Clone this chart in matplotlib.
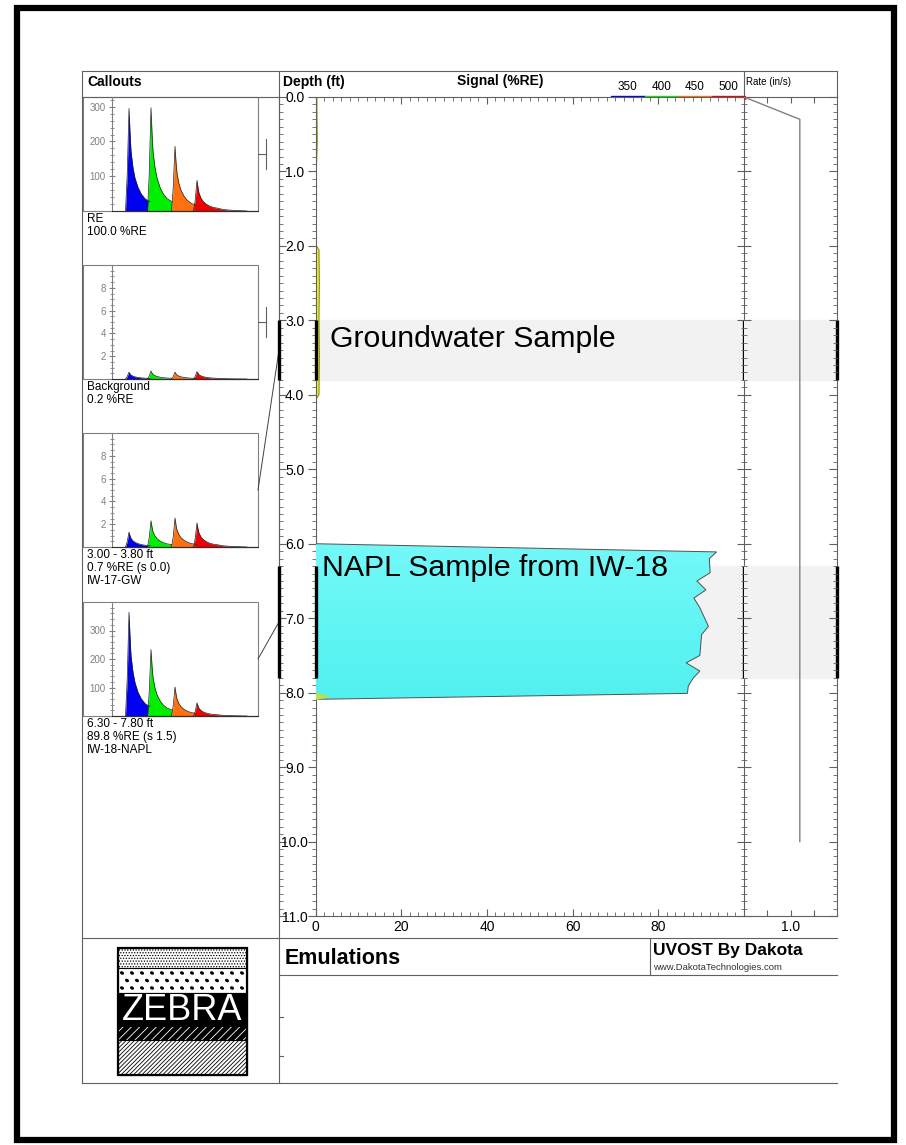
"""
UVOST log sheet: callout waveforms, signal (%RE) vs depth, push rate.
"""
import matplotlib

matplotlib.use("Agg")
import matplotlib.pyplot as plt  # noqa: E402
import numpy as np  # noqa: E402
from matplotlib.patches import Rectangle, Polygon, Ellipse, ConnectionPatch  # noqa: E402
from matplotlib.ticker import MultipleLocator, FormatStrFormatter  # noqa: E402

plt.rcParams["font.family"] = ["Liberation Sans", "DejaVu Sans"]
plt.rcParams["hatch.linewidth"] = 0.6

# ---------------- data read from the log ----------------
# main signal trace (low-level yellow response near zero)
trace_depth = [0.0, 0.6, 1.0, 1.5, 2.0, 2.05, 2.5, 3.0, 3.5, 4.0, 4.05, 4.5, 5.5, 6.0]
trace_signal = [0.3, 0.4, 0.2, 0.1, 0.2, 0.8, 0.9, 0.8, 0.9, 0.8, 0.2, 0.1, 0.1, 0.1]
late_depth = [8.1, 8.6, 9.2, 9.8, 10.0]
late_signal = [0.2, 0.3, 0.2, 0.3, 0.1]

# NAPL interval response
napl_depth = [6.0, 6.11, 6.20, 6.39, 6.50, 6.62, 6.73, 6.86, 7.11, 7.22, 7.50,
              7.60, 7.71, 7.80, 7.91, 8.01, 8.09]
napl_signal = [0.0, 93.6, 91.9, 92.1, 89.0, 91.1, 88.3, 89.7, 91.7, 90.1, 89.7,
               86.5, 89.7, 88.2, 87.0, 86.8, 0.0]

# push rate (in/s)
rate_depth = [0.0, 0.3, 10.0]
rate_value = [0.0, 1.2, 1.2]

# sampled intervals (ft)
sample_intervals = [(3.0, 3.8), (6.3, 7.8)]
sample_labels = ["Groundwater Sample", "NAPL Sample from IW-18"]

# wavelength legend
legend_nm = ["350", "400", "450", "500"]
channel_colors = ["#0000f0", "#00ee00", "#ff7010", "#f00000"]

# callout waveforms: peak heights per channel
callout_peaks = [
    [295, 297, 186, 88],
    [0.6, 0.7, 0.6, 0.65],
    [1.3, 2.3, 2.55, 2.1],
    [364, 233, 102, 46],
]
callout_ylim = [328, 10, 10, 400]
callout_ticks = [[100, 200, 300], [2, 4, 6, 8], [2, 4, 6, 8], [100, 200, 300]]
callout_text = [
    ["RE", "100.0 %RE"],
    ["Background", "0.2 %RE"],
    ["3.00 - 3.80 ft", "0.7 %RE (s 0.0)", "IW-17-GW"],
    ["6.30 - 7.80 ft", "89.8 %RE (s 1.5)", "IW-18-NAPL"],
]
callout_depth = [None, None, 3.4, 7.05]
peak_centres = [17, 39, 63, 85]
peak_offsets = [-3.5, -1.8, 0, 1, 2, 4, 6, 9, 12, 16, 21]
peak_shape = [0, 0.35, 1.0, 0.76, 0.58, 0.42, 0.32, 0.23, 0.17, 0.12, 0.09]
red_tail_offsets = [26, 32, 40, 50]
red_tail_shape = [0.05, 0.03, 0.015, 0.0]

# ---------------- layout helpers ----------------
W, H = 906, 1145


def px(x0, y0, x1, y1):
    return [x0 / W, 1 - y1 / H, (x1 - x0) / W, (y1 - y0) / H]


fig = plt.figure(figsize=(W / 100, H / 100), dpi=100)
bg = fig.add_axes([0, 0, 1, 1], zorder=0)
bg.set_xlim(0, W)
bg.set_ylim(H, 0)
bg.axis("off")

LC = "#606060"
line_kw = dict(color=LC, lw=0.8)

# outer thick frame
bg.add_patch(Rectangle((17, 8), 877, 1132, fill=False, ec="black", lw=4.5))

# sheet grid lines
bg.plot([82, 837], [71, 71], **line_kw)
bg.plot([82, 279], [97, 97], **line_kw)
bg.plot([82, 82], [71, 1083], **line_kw)
bg.plot([279, 279], [71, 1083], **line_kw)
bg.plot([744, 744], [71, 97], **line_kw)
bg.plot([837, 837], [71, 97], **line_kw)
bg.plot([82, 837], [938, 938], **line_kw)
bg.plot([279, 837], [975, 975], **line_kw)
bg.plot([650, 650], [938, 975], **line_kw)
bg.plot([82, 837], [1083, 1083], **line_kw)
for yy in (1017, 1056):
    bg.plot([279, 283], [yy, yy], **line_kw)

# headers
bg.text(87, 82, "Callouts", fontsize=10, fontweight="bold", va="center")
bg.text(283, 82, "Depth (ft)", fontsize=10, fontweight="bold", va="center")
bg.text(500, 81, "Signal (%RE)", fontsize=10, fontweight="bold", va="center", ha="center")
bg.text(746, 82, "Rate (in/s)", fontsize=7, va="center")
leg_x0, leg_w = 611, 33.5
for i, (nm, col) in enumerate(zip(legend_nm, channel_colors)):
    bg.add_patch(Rectangle((leg_x0 + i * leg_w, 95.5), leg_w, 3.5, color=col, zorder=5))
    bg.text(leg_x0 + (i + 0.5) * leg_w, 87, nm, fontsize=8.5, ha="center", va="center")

# footer
bg.text(285, 958, "Emulations", fontsize=15.5, fontweight="bold", va="center")
bg.text(653, 951, "UVOST By Dakota", fontsize=12.5, fontweight="bold", va="center")
bg.text(653, 968, "www.DakotaTechnologies.com", fontsize=6.8, va="center", color="#333333")

# ZEBRA logo
bg.add_patch(Rectangle((118, 948), 129, 20, fc="white", ec="black", hatch="......", lw=0.8))
bg.add_patch(Rectangle((118, 968), 129, 25, fc="white", ec="black", lw=0.8))
for row, yy in enumerate((973, 980.5, 988)):
    shift = 5 if row % 2 else 0
    for xx in range(122 + shift, 244, 10):
        bg.add_patch(Ellipse((xx, yy), 4.2, 3.2, angle=30, fc="black", ec="none"))
bg.add_patch(Rectangle((118, 993), 129, 34, fc="black", ec="black", lw=0.8))
bg.add_patch(Rectangle((118, 1027), 129, 13, fc="black", ec="black", lw=0.8))
bg.add_patch(Rectangle((118, 1027), 129, 13, fc="none", ec="white", hatch="////", lw=0))
bg.add_patch(Rectangle((118, 1040), 129, 35, fc="white", ec="black", hatch="////////", lw=0.8))
bg.add_patch(Rectangle((118, 948), 129, 127, fill=False, ec="black", lw=1.6))
bg.text(182, 1011, "ZEBRA", color="white", fontsize=26, ha="center", va="center",
        fontweight="light")

# ---------------- depth column ----------------
depth_ax = fig.add_axes(px(279, 97, 315.5, 916), zorder=2)
depth_ax.set_xlim(0, 1)
depth_ax.set_ylim(11, 0)
depth_ax.patch.set_alpha(0)
for s in ("top", "bottom", "right"):
    depth_ax.spines[s].set_visible(False)
depth_ax.spines["left"].set_color(LC)
depth_ax.set_xticks([])
depth_ax.yaxis.set_major_locator(MultipleLocator(1))
depth_ax.yaxis.set_minor_locator(MultipleLocator(0.1))
depth_ax.tick_params(axis="y", which="both", direction="in", labelleft=False, color=LC)
depth_ax.tick_params(axis="y", which="major", length=5)
depth_ax.tick_params(axis="y", which="minor", length=3)

# ---------------- signal panel ----------------
sig = fig.add_axes(px(315.5, 97, 744, 916), zorder=3)
sig.set_xlim(0, 100)
sig.set_ylim(11, 0)
for s in sig.spines.values():
    s.set_color(LC)
    s.set_linewidth(0.8)
sig.xaxis.set_major_locator(MultipleLocator(20))
sig.xaxis.set_minor_locator(MultipleLocator(2))
sig.set_xticks([0, 20, 40, 60, 80])
sig.yaxis.set_major_locator(MultipleLocator(1))
sig.yaxis.set_minor_locator(MultipleLocator(0.1))
sig.yaxis.set_major_formatter(FormatStrFormatter("%.1f"))
sig.tick_params(axis="x", which="both", direction="in", top=True, bottom=True,
                labelsize=10, pad=3, color=LC)
sig.tick_params(axis="x", which="major", length=5)
sig.tick_params(axis="x", which="minor", length=3)
sig.tick_params(axis="y", which="both", left=True, right=False, direction="out",
                labelsize=10, pad=9, color=LC)
sig.tick_params(axis="y", which="major", length=6)
sig.tick_params(axis="y", which="minor", length=3)
for lab in sig.get_yticklabels():
    lab.set_horizontalalignment("center")

for d0, d1 in sample_intervals:
    sig.axhspan(d0, d1, color="#f2f2f2", zorder=0)

sig.fill_betweenx(trace_depth, 0, trace_signal, color="#eeee30", zorder=2, lw=0)
sig.plot(trace_signal, trace_depth, color="#7a8a20", lw=0.7, zorder=2)
sig.plot(late_signal, late_depth, color="#8aa030", lw=0.7, zorder=2)

# NAPL fill with slight vertical gradient
napl_poly = Polygon(np.column_stack([[0] + napl_signal + [0], [napl_depth[0]] + napl_depth + [napl_depth[-1]]]),
                    closed=True, fc="none", ec="#505050", lw=0.7, zorder=4)
sig.add_patch(napl_poly)
grad = np.linspace(0, 1, 64).reshape(-1, 1)
cmap = matplotlib.colors.LinearSegmentedColormap.from_list("napl", ["#74f8f8", "#52f0f0"])
im = sig.imshow(grad, extent=[0, 100, napl_depth[-1], napl_depth[0]], cmap=cmap,
                aspect="auto", zorder=3, origin="upper")
im.set_clip_path(napl_poly)
sig.fill_betweenx([8.0, 8.05, 8.09], 0, [0.5, 3.5, 0.3], color="#b8e050", zorder=4, lw=0)

sig.text(3.4, 3.25, sample_labels[0], fontsize=21.8, va="center", ha="left", zorder=6)
sig.text(1.5, 6.32, sample_labels[1], fontsize=21.8, va="center", ha="left", zorder=6)

# sample interval bars
for d0, d1 in sample_intervals:
    for axx, xv in ((depth_ax, 0), (sig, 0), (sig, 100)):
        axx.plot([xv, xv], [d0, d1], color="black", lw=2.4, zorder=7, clip_on=False,
                 solid_capstyle="butt")

# ---------------- rate panel ----------------
rate = fig.add_axes(px(744, 97, 837, 916), zorder=4)
rate.set_xlim(0, 2)
rate.set_ylim(11, 0)
rate.patch.set_alpha(0)
rate.spines["left"].set_visible(False)
for s in ("top", "bottom", "right"):
    rate.spines[s].set_color(LC)
    rate.spines[s].set_linewidth(0.8)
rate.set_xticks([0.5, 1.0, 1.5])
rate.set_xticklabels(["", "1.0", ""])
rate.tick_params(axis="x", direction="in", top=True, bottom=True, length=4, labelsize=10,
                 pad=3, color=LC)
# shared boundary with the signal panel: ticks cross the line
rate.yaxis.set_major_locator(MultipleLocator(1))
rate.yaxis.set_minor_locator(MultipleLocator(0.1))
rate.tick_params(axis="y", which="both", direction="inout", left=True, right=False,
                 labelleft=False, color=LC)
rate.tick_params(axis="y", which="major", length=10)
rate.tick_params(axis="y", which="minor", length=5)
for d0, d1 in sample_intervals:
    rate.axhspan(d0, d1, color="#f2f2f2", zorder=0)
    rate.plot([2, 2], [d0, d1], color="black", lw=2.4, zorder=7, clip_on=False,
              solid_capstyle="butt")
rate.plot(rate_value, rate_depth, color="#808080", lw=1.0, zorder=3)

# right edge of rate panel: inward ticks only
rate_r = fig.add_axes(px(744, 97, 837, 916), zorder=5)
rate_r.set_ylim(11, 0)
rate_r.patch.set_alpha(0)
for s in rate_r.spines.values():
    s.set_visible(False)
rate_r.set_xticks([])
rate_r.yaxis.set_major_locator(MultipleLocator(1))
rate_r.yaxis.set_minor_locator(MultipleLocator(0.1))
rate_r.tick_params(axis="y", which="both", direction="in", left=False, right=True,
                   labelleft=False, color=LC)
rate_r.tick_params(axis="y", which="major", length=6)
rate_r.tick_params(axis="y", which="minor", length=3)

# ---------------- callout waveforms ----------------
box_tops = [97, 265, 433, 602]
box_h = 114
for k, top in enumerate(box_tops):
    bottom = top + box_h
    bg.add_patch(Rectangle((83, top), 175, box_h, fill=False, ec="#808080", lw=0.8))
    ax = fig.add_axes(px(112, top, 258, bottom), zorder=2)
    ax.set_xlim(0, 146)
    ax.set_ylim(0, callout_ylim[k])
    ax.patch.set_alpha(0)
    ax.spines["top"].set_visible(False)
    ax.spines["right"].set_visible(False)
    ax.spines["left"].set_color("#808080")
    ax.spines["bottom"].set_color("#303030")
    ax.set_xticks([])
    ax.set_yticks(callout_ticks[k])
    ax.yaxis.set_minor_locator(MultipleLocator(20 if callout_ylim[k] > 50 else 0.5))
    ax.tick_params(axis="y", which="major", direction="inout", length=5, labelsize=7,
                   labelcolor="#808080", color="#808080", pad=2)
    ax.tick_params(axis="y", which="minor", direction="inout", length=2.5, color="#808080")
    for j, (centre, amp, col) in enumerate(zip(peak_centres, callout_peaks[k], channel_colors)):
        offs = list(peak_offsets)
        shp = list(peak_shape)
        if j == 3:
            offs += red_tail_offsets
            shp += red_tail_shape
        xs = np.array(offs) + centre
        ys = np.array(shp) * amp
        ax.fill_between(xs, 0, ys, color=col, lw=0)
        ax.plot(xs, ys, color="#202020", lw=0.5)
    ax.plot([peak_centres[0] - 3.5, 145], [0, 0], color="#202020", lw=0.8, clip_on=False)
    for i, line in enumerate(callout_text[k]):
        bg.text(87, bottom + 8 + 13 * i, line, fontsize=8.5, va="center")
    if callout_depth[k] is None:
        # unattached marker
        bg.plot([258, 266], [top + box_h / 2, top + box_h / 2], color=LC, lw=0.8)
        bg.plot([266, 266], [top + box_h / 2 - 15, top + box_h / 2 + 15], color=LC, lw=0.8)
    else:
        con = ConnectionPatch(xyA=(1, 0.5), coordsA=ax.transAxes,
                              xyB=(0, callout_depth[k]), coordsB=depth_ax.transData,
                              color="#404040", lw=0.7)
        fig.add_artist(con)

fig.savefig("out.png", dpi=100)
